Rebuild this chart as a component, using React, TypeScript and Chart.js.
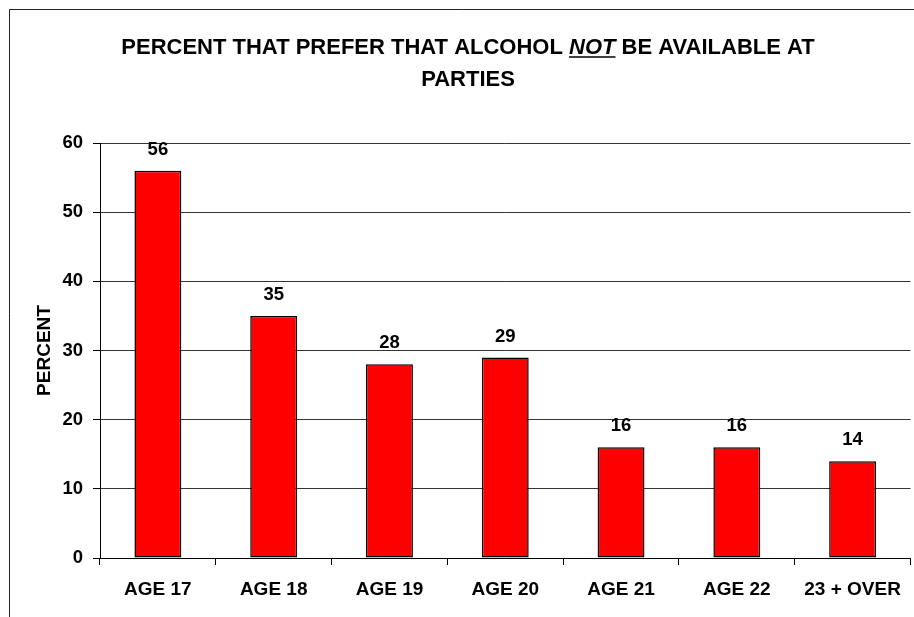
import React, { useEffect, useRef } from "react";
import { Chart, registerables } from "chart.js";

Chart.register(...registerables);

const categories: string[] = ["AGE 17", "AGE 18", "AGE 19", "AGE 20", "AGE 21", "AGE 22", "23 + OVER"];
const percentValues: number[] = [56, 35, 28, 29, 16, 16, 14];
const titleLine1Parts: string[] = ["PERCENT THAT PREFER THAT ALCOHOL ", "NOT", " BE AVAILABLE AT"];
const titleLine2: string = "PARTIES";
const yAxisTitle: string = "PERCENT";

const FONT = '"Liberation Sans", Arial, sans-serif';

const framePlugin = {
  id: "framePlugin",
  beforeDraw(chart: any) {
    const ctx = chart.ctx;
    ctx.save();
    ctx.fillStyle = "#ffffff";
    ctx.fillRect(0, 0, chart.width, chart.height);
    ctx.strokeStyle = "#222";
    ctx.lineWidth = 1;
    ctx.beginPath();
    ctx.moveTo(9.5, chart.height + 2);
    ctx.lineTo(9.5, 9.5);
    ctx.lineTo(chart.width + 2, 9.5);
    ctx.stroke();
    ctx.restore();
  },
};

const titlePlugin = {
  id: "titlePlugin",
  afterDraw(chart: any) {
    const ctx = chart.ctx;
    ctx.save();
    ctx.fillStyle = "#000";
    ctx.textBaseline = "alphabetic";
    ctx.textAlign = "left";
    const bold = `bold 22px ${FONT}`;
    const boldItalic = `italic bold 22px ${FONT}`;
    const fonts = [bold, boldItalic, bold];
    const widths = titleLine1Parts.map((p, i) => {
      ctx.font = fonts[i];
      return ctx.measureText(p).width;
    });
    const total = widths.reduce((a, b) => a + b, 0);
    const cx = 468;
    let x = cx - total / 2;
    const base1 = 54;
    titleLine1Parts.forEach((p, i) => {
      ctx.font = fonts[i];
      ctx.fillText(p, x, base1);
      if (i === 1) {
        ctx.strokeStyle = "#000";
        ctx.lineWidth = 1.5;
        ctx.beginPath();
        ctx.moveTo(x, base1 + 3);
        ctx.lineTo(x + widths[i], base1 + 3);
        ctx.stroke();
      }
      x += widths[i];
    });
    ctx.font = bold;
    ctx.textAlign = "center";
    ctx.fillText(titleLine2, cx, 86);
    ctx.restore();
  },
};

const valueLabelPlugin = {
  id: "valueLabelPlugin",
  afterDatasetsDraw(chart: any) {
    const ctx = chart.ctx;
    const meta = chart.getDatasetMeta(0);
    ctx.save();
    ctx.fillStyle = "#000";
    ctx.font = `bold 18.5px ${FONT}`;
    ctx.textAlign = "center";
    ctx.textBaseline = "middle";
    meta.data.forEach((bar: any, i: number) => {
      ctx.fillText(String(percentValues[i]), bar.x, bar.y - 21);
    });
    ctx.restore();
  },
};

export default function App() {
  const canvasRef = useRef<HTMLCanvasElement | null>(null);

  useEffect(() => {
    if (!canvasRef.current) return;
    const chart = new Chart(canvasRef.current, {
      type: "bar",
      data: {
        labels: categories,
        datasets: [
          {
            data: percentValues,
            backgroundColor: "#ff0000",
            borderColor: "#000000",
            borderWidth: 1.5,
            borderSkipped: false,
            categoryPercentage: 1,
            barPercentage: 0.405,
          },
        ],
      },
      options: {
        responsive: false,
        animation: false,
        devicePixelRatio: 1,
        layout: { padding: { left: 0, top: 143, right: 1, bottom: 0 } },
        plugins: {
          legend: { display: false },
          title: { display: false },
          tooltip: { enabled: false },
        },
        scales: {
          x: {
            offset: true,
            grid: {
              offset: true,
              drawOnChartArea: false,
              drawTicks: true,
              tickLength: 7,
              tickColor: "#000",
              color: "#000",
            },
            border: { display: true, color: "#000", width: 1 },
            ticks: {
              color: "#000",
              padding: 13,
              maxRotation: 0,
              autoSkip: false,
              font: { family: FONT, size: 19, weight: "bold" },
            },
            afterFit(scale: any) {
              scale.height = 59;
            },
          },
          y: {
            min: 0,
            max: 60,
            ticks: {
              stepSize: 10,
              color: "#000",
              padding: 10,
              font: { family: FONT, size: 18.5, weight: "bold" },
            },
            grid: {
              color: "#333",
              lineWidth: 1,
              drawTicks: true,
              tickLength: 7,
              tickColor: "#000",
            },
            border: { display: true, color: "#000", width: 1 },
            title: {
              display: true,
              text: yAxisTitle,
              color: "#000",
              padding: { top: 33, bottom: 0 },
              font: { family: FONT, size: 19, weight: "bold" },
            },
            afterFit(scale: any) {
              scale.width = 100;
            },
          },
        },
      },
      plugins: [framePlugin, titlePlugin, valueLabelPlugin],
    } as any);
    return () => chart.destroy();
  }, []);

  return (
    <div style={{ position: "absolute", left: 0, top: 0, width: 914, height: 617, background: "#fff" }}>
      <canvas ref={canvasRef} width={914} height={617} style={{ display: "block" }} />
    </div>
  );
}
